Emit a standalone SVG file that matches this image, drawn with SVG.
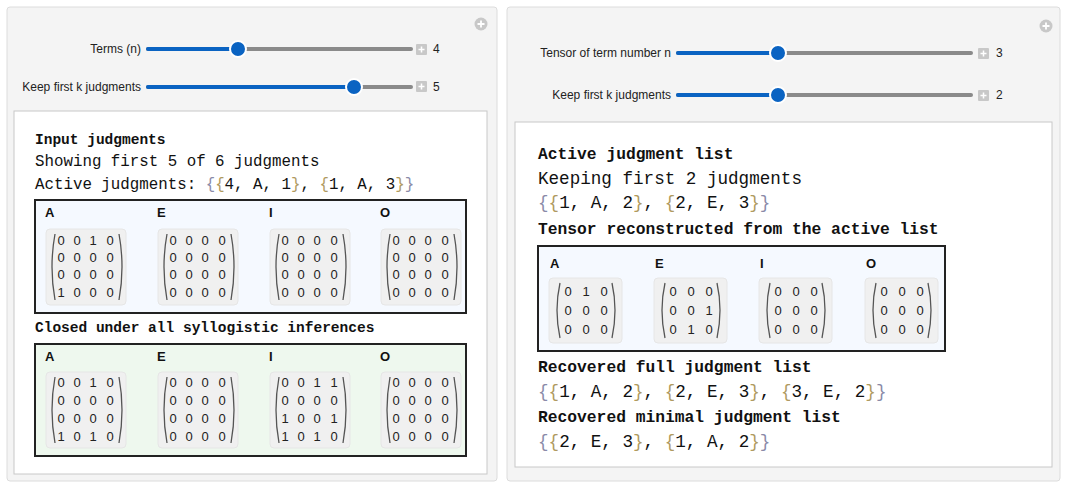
<svg xmlns="http://www.w3.org/2000/svg" width="1067" height="486" viewBox="0 0 1067 486">
<style>
.panel{fill:#f4f4f4;stroke:#dcdcdc}
.inner{fill:#fff;stroke:#c8c8c8}
.lab{font-family:"Liberation Sans",Arial,sans-serif;font-size:12px;fill:#222;text-anchor:end}
.val{font-family:"Liberation Sans",Arial,sans-serif;font-size:12px;fill:#222}
.trk{stroke:#8a8a8a;stroke-width:4;stroke-linecap:round}
.blu{stroke:#0a63c2;stroke-width:4;stroke-linecap:round}
.knob{fill:#0a63c2;stroke:#fff;stroke-width:2}
.pl{fill:#c8c8c8}
.hb{font-family:"Liberation Mono",monospace;font-weight:bold;fill:#111}
.mn{font-family:"Liberation Mono",monospace;fill:#111}
.ob{fill:#8a8aa8}.ib{fill:#b09a60}
.box{stroke:#222;stroke-width:2}
.ml{font-family:"Liberation Sans",Arial,sans-serif;font-weight:bold;font-size:13px;fill:#111}
.mp{fill:#f0f0f0;stroke:#e6e6e6}
.d{font-family:"Liberation Sans",Arial,sans-serif;font-size:13px;fill:#222;text-anchor:middle}
.br{fill:none;stroke:#555;stroke-width:1.3}
</style>
<defs>
<g id="pm"><rect x="-6" y="-6" width="11" height="11" rx="1" class="pl"/><path d="M-3.5,-0.5h6M-0.5,-3.5v6" stroke="#fff" stroke-width="1.5"/></g>
<g id="pc"><circle r="6.5" fill="#c8c8c8"/><path d="M-3.5,0h7M0,-3.5v7" stroke="#fff" stroke-width="1.8"/></g>
</defs>
<g id="left-panel">
<rect class="panel" x="7" y="7" width="490" height="474" rx="3"/>
<use href="#pc" x="481" y="24"/>
<text class="lab" x="141" y="53">Terms (n)</text>
<line class="trk" x1="148" y1="49" x2="411" y2="49"/><line class="blu" x1="148" y1="49" x2="238" y2="49"/><circle class="knob" cx="238" cy="49" r="8"/>
<use href="#pm" x="422" y="50"/><text class="val" x="433" y="53">4</text>
<text class="lab" x="141" y="91">Keep first k judgments</text>
<line class="trk" x1="148" y1="87" x2="411" y2="87"/><line class="blu" x1="148" y1="87" x2="354" y2="87"/><circle class="knob" cx="354" cy="87" r="8"/>
<use href="#pm" x="422" y="87"/><text class="val" x="433" y="91">5</text>
<rect class="inner" x="14" y="111" width="473" height="363"/>
<text class="hb" x="35" y="144" font-size="14.5">Input judgments</text>
<text class="mn" x="35" y="166" font-size="15.8">Showing first 5 of 6 judgments</text>
<text class="mn" x="35" y="189" font-size="15.8">Active judgments: <tspan class="ob">{</tspan><tspan class="ib">{</tspan>4, A, 1<tspan class="ib">}</tspan>, <tspan class="ib">{</tspan>1, A, 3<tspan class="ib">}</tspan><tspan class="ob">}</tspan></text>
<text class="hb" x="35" y="332" font-size="14.5">Closed under all syllogistic inferences</text>
</g>
<g id="input-tensor">
<rect class="box" x="35" y="200" width="431" height="113" fill="#f5f9ff"/>
<text class="ml" x="45" y="217">A</text><text class="ml" x="157" y="217">E</text><text class="ml" x="269" y="217">I</text><text class="ml" x="380" y="217">O</text>
<g id="m1"><rect class="mp" x="46" y="229" width="80" height="76" rx="4"/><rect class="mp" x="158" y="229" width="80" height="76" rx="4"/><rect class="mp" x="270" y="229" width="80" height="76" rx="4"/><rect class="mp" x="381" y="229" width="80" height="76" rx="4"/></g>
<g class="brs">
<path class="br" d="M55,234 Q49,267 55,300M119,234 Q125,267 119,300"/>
<path class="br" d="M167,234 Q161,267 167,300M231,234 Q237,267 231,300"/>
<path class="br" d="M279,234 Q273,267 279,300M343,234 Q349,267 343,300"/>
<path class="br" d="M390,234 Q384,267 390,300M454,234 Q460,267 454,300"/>
</g>
<text class="d"><tspan x="61" y="245">0</tspan><tspan x="77">0</tspan><tspan x="93">1</tspan><tspan x="110">0</tspan><tspan x="61" y="262">0</tspan><tspan x="77">0</tspan><tspan x="93">0</tspan><tspan x="110">0</tspan><tspan x="61" y="279">0</tspan><tspan x="77">0</tspan><tspan x="93">0</tspan><tspan x="110">0</tspan><tspan x="61" y="297">1</tspan><tspan x="77">0</tspan><tspan x="93">0</tspan><tspan x="110">0</tspan></text>
<text class="d"><tspan x="173" y="245">0</tspan><tspan x="189">0</tspan><tspan x="205">0</tspan><tspan x="222">0</tspan><tspan x="173" y="262">0</tspan><tspan x="189">0</tspan><tspan x="205">0</tspan><tspan x="222">0</tspan><tspan x="173" y="279">0</tspan><tspan x="189">0</tspan><tspan x="205">0</tspan><tspan x="222">0</tspan><tspan x="173" y="297">0</tspan><tspan x="189">0</tspan><tspan x="205">0</tspan><tspan x="222">0</tspan></text>
<text class="d"><tspan x="285" y="245">0</tspan><tspan x="301">0</tspan><tspan x="317">0</tspan><tspan x="334">0</tspan><tspan x="285" y="262">0</tspan><tspan x="301">0</tspan><tspan x="317">0</tspan><tspan x="334">0</tspan><tspan x="285" y="279">0</tspan><tspan x="301">0</tspan><tspan x="317">0</tspan><tspan x="334">0</tspan><tspan x="285" y="297">0</tspan><tspan x="301">0</tspan><tspan x="317">0</tspan><tspan x="334">0</tspan></text>
<text class="d"><tspan x="396" y="245">0</tspan><tspan x="412">0</tspan><tspan x="428">0</tspan><tspan x="445">0</tspan><tspan x="396" y="262">0</tspan><tspan x="412">0</tspan><tspan x="428">0</tspan><tspan x="445">0</tspan><tspan x="396" y="279">0</tspan><tspan x="412">0</tspan><tspan x="428">0</tspan><tspan x="445">0</tspan><tspan x="396" y="297">0</tspan><tspan x="412">0</tspan><tspan x="428">0</tspan><tspan x="445">0</tspan></text>
</g>
<g id="closed-tensor">
<rect class="box" x="35" y="344" width="431" height="112" fill="#eef8ee"/>
<text class="ml" x="45" y="361">A</text><text class="ml" x="157" y="361">E</text><text class="ml" x="269" y="361">I</text><text class="ml" x="380" y="361">O</text>
<rect class="mp" x="46" y="372" width="80" height="76" rx="4"/><rect class="mp" x="158" y="372" width="80" height="76" rx="4"/><rect class="mp" x="270" y="372" width="80" height="76" rx="4"/><rect class="mp" x="381" y="372" width="80" height="76" rx="4"/>
<path class="br" d="M55,377 Q49,410 55,443M119,377 Q125,410 119,443M167,377 Q161,410 167,443M231,377 Q237,410 231,443M279,377 Q273,410 279,443M343,377 Q349,410 343,443M390,377 Q384,410 390,443M454,377 Q460,410 454,443"/>
<text class="d"><tspan x="61" y="387">0</tspan><tspan x="77">0</tspan><tspan x="93">1</tspan><tspan x="110">0</tspan><tspan x="61" y="405">0</tspan><tspan x="77">0</tspan><tspan x="93">0</tspan><tspan x="110">0</tspan><tspan x="61" y="423">0</tspan><tspan x="77">0</tspan><tspan x="93">0</tspan><tspan x="110">0</tspan><tspan x="61" y="441">1</tspan><tspan x="77">0</tspan><tspan x="93">1</tspan><tspan x="110">0</tspan></text>
<text class="d"><tspan x="173" y="387">0</tspan><tspan x="189">0</tspan><tspan x="205">0</tspan><tspan x="222">0</tspan><tspan x="173" y="405">0</tspan><tspan x="189">0</tspan><tspan x="205">0</tspan><tspan x="222">0</tspan><tspan x="173" y="423">0</tspan><tspan x="189">0</tspan><tspan x="205">0</tspan><tspan x="222">0</tspan><tspan x="173" y="441">0</tspan><tspan x="189">0</tspan><tspan x="205">0</tspan><tspan x="222">0</tspan></text>
<text class="d"><tspan x="285" y="387">0</tspan><tspan x="301">0</tspan><tspan x="317">1</tspan><tspan x="334">1</tspan><tspan x="285" y="405">0</tspan><tspan x="301">0</tspan><tspan x="317">0</tspan><tspan x="334">0</tspan><tspan x="285" y="423">1</tspan><tspan x="301">0</tspan><tspan x="317">0</tspan><tspan x="334">1</tspan><tspan x="285" y="441">1</tspan><tspan x="301">0</tspan><tspan x="317">1</tspan><tspan x="334">0</tspan></text>
<text class="d"><tspan x="396" y="387">0</tspan><tspan x="412">0</tspan><tspan x="428">0</tspan><tspan x="445">0</tspan><tspan x="396" y="405">0</tspan><tspan x="412">0</tspan><tspan x="428">0</tspan><tspan x="445">0</tspan><tspan x="396" y="423">0</tspan><tspan x="412">0</tspan><tspan x="428">0</tspan><tspan x="445">0</tspan><tspan x="396" y="441">0</tspan><tspan x="412">0</tspan><tspan x="428">0</tspan><tspan x="445">0</tspan></text>
</g>
<g id="right-panel">
<rect class="panel" x="507" y="7" width="553" height="474" rx="3"/>
<use href="#pc" x="1046" y="26"/>
<text class="lab" x="671" y="57">Tensor of term number n</text>
<line class="trk" x1="678" y1="53" x2="971" y2="53"/><line class="blu" x1="678" y1="53" x2="778" y2="53"/><circle class="knob" cx="778" cy="53" r="8"/>
<use href="#pm" x="984" y="54"/><text class="val" x="996" y="57">3</text>
<text class="lab" x="671" y="99">Keep first k judgments</text>
<line class="trk" x1="678" y1="95" x2="971" y2="95"/><line class="blu" x1="678" y1="95" x2="778" y2="95"/><circle class="knob" cx="778" cy="95" r="8"/>
<use href="#pm" x="984" y="96"/><text class="val" x="996" y="99">2</text>
<rect class="inner" x="515" y="122" width="537" height="345"/>
<text class="hb" x="538" y="159" font-size="16.3">Active judgment list</text>
<text class="mn" x="538" y="184" font-size="17.6">Keeping first 2 judgments</text>
<text class="mn" x="538" y="208" font-size="17.6"><tspan class="ob">{</tspan><tspan class="ib">{</tspan>1, A, 2<tspan class="ib">}</tspan>, <tspan class="ib">{</tspan>2, E, 3<tspan class="ib">}</tspan><tspan class="ob">}</tspan></text>
<text class="hb" x="538" y="234" font-size="16.3">Tensor reconstructed from the active list</text>
<text class="hb" x="538" y="372" font-size="16.3">Recovered full judgment list</text>
<text class="mn" x="538" y="397" font-size="17.6"><tspan class="ob">{</tspan><tspan class="ib">{</tspan>1, A, 2<tspan class="ib">}</tspan>, <tspan class="ib">{</tspan>2, E, 3<tspan class="ib">}</tspan>, <tspan class="ib">{</tspan>3, E, 2<tspan class="ib">}</tspan><tspan class="ob">}</tspan></text>
<text class="hb" x="538" y="422" font-size="16.3">Recovered minimal judgment list</text>
<text class="mn" x="538" y="447" font-size="17.6"><tspan class="ob">{</tspan><tspan class="ib">{</tspan>2, E, 3<tspan class="ib">}</tspan>, <tspan class="ib">{</tspan>1, A, 2<tspan class="ib">}</tspan><tspan class="ob">}</tspan></text>
</g>
<g id="active-tensor">
<rect class="box" x="538" y="246" width="407" height="105" fill="#f5f9ff"/>
<text class="ml" x="550" y="268">A</text><text class="ml" x="655" y="268">E</text><text class="ml" x="760" y="268">I</text><text class="ml" x="866" y="268">O</text>
<rect class="mp" x="549" y="278" width="73" height="65" rx="4"/><rect class="mp" x="654" y="278" width="73" height="65" rx="4"/><rect class="mp" x="759" y="278" width="73" height="65" rx="4"/><rect class="mp" x="865" y="278" width="73" height="65" rx="4"/>
<path class="br" d="M560,283 Q554,310 560,338M612,283 Q618,310 612,338M665,283 Q659,310 665,338M717,283 Q723,310 717,338M770,283 Q764,310 770,338M822,283 Q828,310 822,338M876,283 Q870,310 876,338M928,283 Q934,310 928,338"/>
<text class="d"><tspan x="568" y="296">0</tspan><tspan x="586">1</tspan><tspan x="604">0</tspan><tspan x="568" y="315">0</tspan><tspan x="586">0</tspan><tspan x="604">0</tspan><tspan x="568" y="334">0</tspan><tspan x="586">0</tspan><tspan x="604">0</tspan></text>
<text class="d"><tspan x="673" y="296">0</tspan><tspan x="691">0</tspan><tspan x="709">0</tspan><tspan x="673" y="315">0</tspan><tspan x="691">0</tspan><tspan x="709">1</tspan><tspan x="673" y="334">0</tspan><tspan x="691">1</tspan><tspan x="709">0</tspan></text>
<text class="d"><tspan x="778" y="296">0</tspan><tspan x="796">0</tspan><tspan x="814">0</tspan><tspan x="778" y="315">0</tspan><tspan x="796">0</tspan><tspan x="814">0</tspan><tspan x="778" y="334">0</tspan><tspan x="796">0</tspan><tspan x="814">0</tspan></text>
<text class="d"><tspan x="884" y="296">0</tspan><tspan x="902">0</tspan><tspan x="920">0</tspan><tspan x="884" y="315">0</tspan><tspan x="902">0</tspan><tspan x="920">0</tspan><tspan x="884" y="334">0</tspan><tspan x="902">0</tspan><tspan x="920">0</tspan></text>
</g>
</svg>
